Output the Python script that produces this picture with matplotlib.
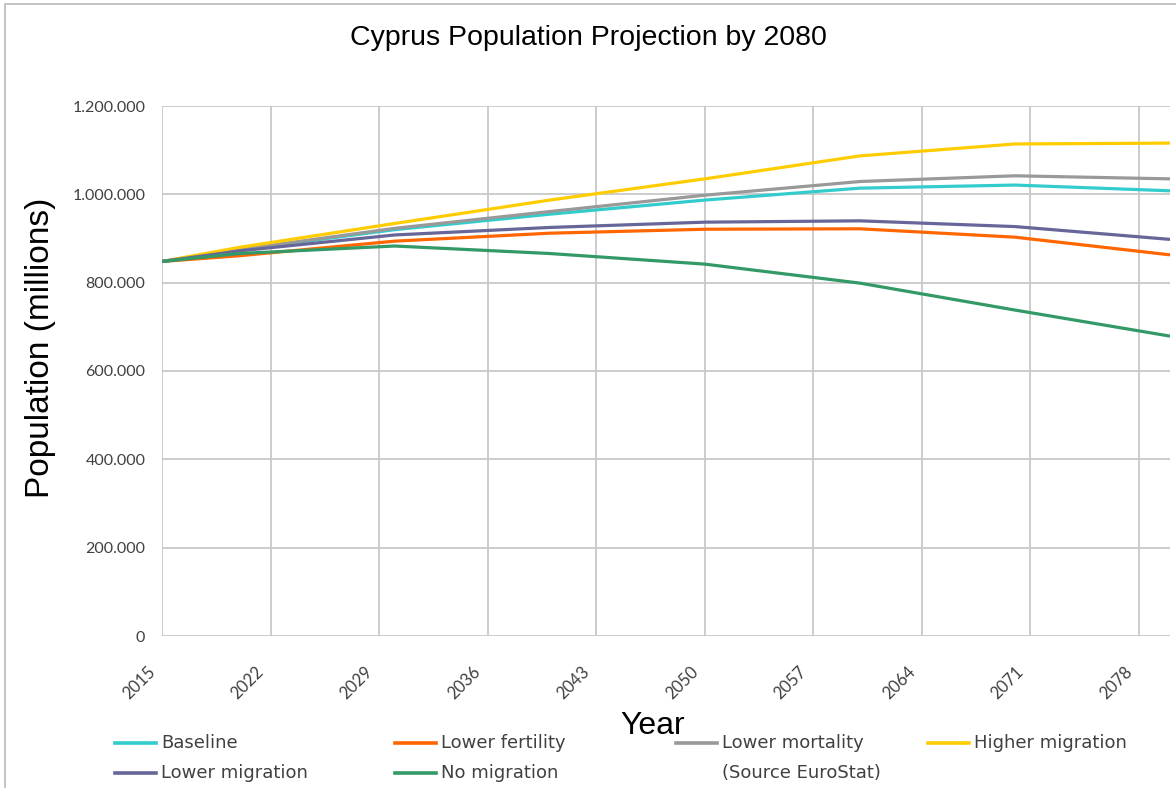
import matplotlib
matplotlib.use("Agg")
import matplotlib.pyplot as plt
from matplotlib.lines import Line2D
from matplotlib.patches import Rectangle
from matplotlib.ticker import FuncFormatter
from matplotlib.transforms import ScaledTranslation

# Eurostat projection years and population per scenario
years = [2015, 2020, 2030, 2040, 2050, 2060, 2070, 2080]
baseline = [848000, 874000, 920000, 955000, 987000, 1014000, 1021000, 1008000]
lower_fertility = [848000, 861000, 894000, 912000, 921000, 922000, 903000, 863000]
lower_mortality = [848000, 875000, 923000, 961000, 998000, 1029000, 1042000, 1035000]
higher_migration = [848000, 880000, 934000, 987000, 1035000, 1087000, 1114000, 1116000]
lower_migration = [848000, 872000, 908000, 925000, 937000, 940000, 927000, 898000]
no_migration = [848000, 866000, 883000, 866000, 842000, 799000, 738000, 679000]

series_names = ["Baseline", "Lower fertility", "Lower mortality",
                "Higher migration", "Lower migration", "No migration"]
series_values = [baseline, lower_fertility, lower_mortality,
                 higher_migration, lower_migration, no_migration]
series_colors = ["#33CCCC", "#FF6600", "#999999", "#FFCC00", "#666699", "#339966"]

x_ticks = list(range(2015, 2080, 7))
y_ticks = list(range(0, 1200001, 200000))
source_note = "(Source EuroStat)"

W, H = 1176, 788
fig = plt.figure(figsize=(W / 100, H / 100), dpi=100)
ax = fig.add_axes([162 / W, 1 - 636 / H, (1170 - 162) / W, (636 - 106) / H])

for name, vals, col in zip(series_names, series_values, series_colors):
    ax.plot(years, vals, color=col, lw=2.3, label=name, solid_capstyle="butt", zorder=3)

ax.set_xlim(2015, 2080)
ax.set_ylim(0, 1200000)
ax.set_xticks(x_ticks)
ax.set_yticks(y_ticks)
ax.yaxis.set_major_formatter(FuncFormatter(lambda v, p: "0" if v == 0 else f"{int(v):,}".replace(",", ".")))
ax.grid(True, color="#C8C8C8", lw=1.3, zorder=0)
for s in ax.spines.values():
    s.set_visible(False)
ax.tick_params(length=0, labelcolor="#404040", labelsize=11.5)
ax.tick_params(axis="x", pad=20)
ax.tick_params(axis="y", pad=12)
for lab in ax.get_yticklabels():
    lab.set_fontfamily("Lato")
shift = ScaledTranslation(-0.15, 0, fig.dpi_scale_trans)
for lab in ax.get_xticklabels():
    lab.set_fontfamily("Lato")
    lab.set_fontsize(12)
    lab.set_rotation(45)
    lab.set_ha("right")
    lab.set_rotation_mode("anchor")
    lab.set_transform(lab.get_transform() + shift)

fig.text(588 / W, 1 - 38 / H, "Cyprus Population Projection by 2080",
         ha="center", va="center", fontsize=20.5, family="Liberation Sans", color="black")
fig.text(40 / W, 1 - 348 / H, "Population (millions)", rotation=90,
         ha="center", va="center", fontsize=24, family="Liberation Sans", color="black")
fig.text(653 / W, 1 - 726 / H, "Year", ha="center", va="center",
         fontsize=23, family="Liberation Sans", color="black")

# legend laid out in rows of four
text_x = [161, 441, 722, 974]
row_y = [743, 773]
entries = list(zip(series_names, series_colors)) + [(source_note, None)]
for i, (name, col) in enumerate(entries):
    c = i % 4
    fy = 1 - row_y[i // 4] / H
    if col is not None:
        fig.add_artist(Line2D([(text_x[c] - 46) / W, (text_x[c] - 5) / W], [fy, fy], color=col,
                              lw=2.6, transform=fig.transFigure))
    fig.text(text_x[c] / W, fy, name, ha="left", va="center", fontsize=13,
             family="DejaVu Sans", color="#404040")

# chart border (top and left edges visible)
fig.add_artist(Rectangle((5 / W, -0.05), 1.2, 1 - 3.5 / H + 0.05, fill=False,
                         ec="#BFBFBF", lw=1.3, transform=fig.transFigure))

fig.savefig("out.png", dpi=100)
